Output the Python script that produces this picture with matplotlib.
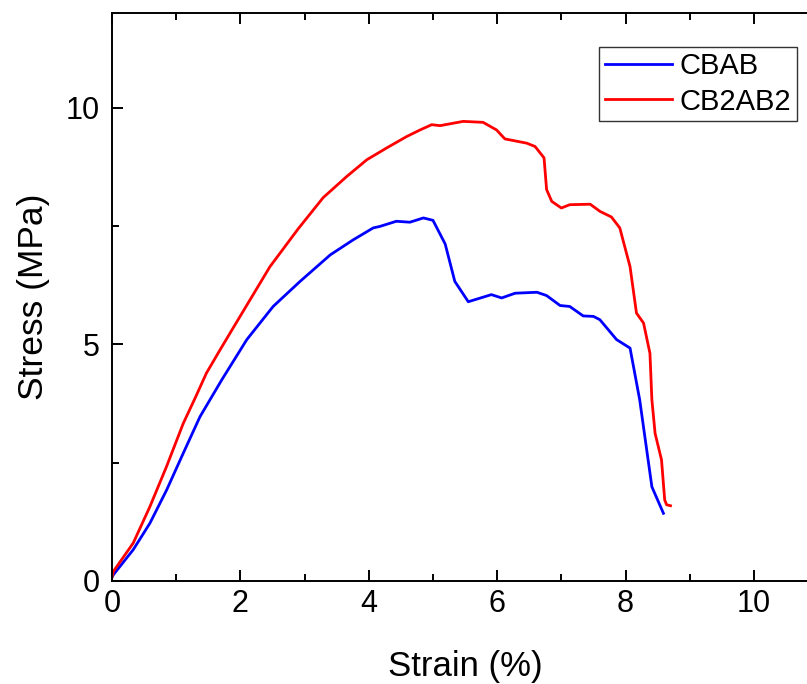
import matplotlib.pyplot as plt
from matplotlib.ticker import MultipleLocator

plt.rcParams["font.family"] = ["Liberation Sans", "DejaVu Sans"]

# CBAB curve (strain %, stress MPa)
cbab_strain = [0.0, 0.02, 0.33, 0.59, 0.85, 1.11, 1.37, 1.71, 2.10, 2.51, 2.93, 3.40, 3.76,
               4.07, 4.17, 4.43, 4.64, 4.85, 5.00, 5.19, 5.34, 5.55, 5.91, 6.07, 6.28, 6.62, 6.77,
               6.98, 7.13, 7.34, 7.50, 7.60, 7.86, 8.07, 8.22, 8.41, 8.59]
cbab_stress = [0.08, 0.13, 0.66, 1.22, 1.92, 2.70, 3.47, 4.25, 5.10, 5.80, 6.33, 6.89, 7.21,
               7.46, 7.49, 7.60, 7.58, 7.67, 7.62, 7.12, 6.33, 5.90, 6.05, 5.98, 6.08, 6.10, 6.03,
               5.82, 5.80, 5.60, 5.59, 5.52, 5.10, 4.92, 3.83, 1.99, 1.43]

# CB2AB2 curve
cb2ab2_strain = [0.0, 0.02, 0.33, 0.59, 0.85, 1.11, 1.30, 1.47, 1.66, 1.84, 2.15, 2.46, 2.90,
                 3.29, 3.66, 3.97, 4.28, 4.59, 4.80, 4.98, 5.11, 5.47, 5.78, 5.99, 6.12, 6.46,
                 6.59, 6.73, 6.77, 6.85, 7.00, 7.13, 7.45, 7.60, 7.78, 7.91, 8.07, 8.17, 8.28,
                 8.38, 8.41, 8.46, 8.56, 8.61, 8.64, 8.70]
cb2ab2_stress = [0.08, 0.20, 0.80, 1.57, 2.42, 3.33, 3.88, 4.39, 4.83, 5.24, 5.94, 6.64, 7.44,
                 8.10, 8.55, 8.90, 9.15, 9.39, 9.53, 9.64, 9.62, 9.71, 9.69, 9.53, 9.34, 9.25,
                 9.18, 8.94, 8.27, 8.02, 7.88, 7.95, 7.96, 7.81, 7.69, 7.46, 6.64, 5.66, 5.45,
                 4.81, 3.83, 3.12, 2.56, 1.71, 1.61, 1.59]

fig = plt.figure(figsize=(8.07, 6.84), dpi=100)
ax = fig.add_axes([0.1388, 0.1506, 0.875, 0.8304])

ax.plot(cbab_strain, cbab_stress, color="#0000ff", linewidth=2.0, label="CBAB")
ax.plot(cb2ab2_strain, cb2ab2_stress, color="#ff0000", linewidth=2.0, label="CB2AB2")

ax.set_xlim(0, 11)
ax.set_ylim(0, 12)
ax.set_xticks([0, 2, 4, 6, 8, 10])
ax.xaxis.set_minor_locator(MultipleLocator(1))
ax.yaxis.set_major_locator(MultipleLocator(5))
ax.yaxis.set_minor_locator(MultipleLocator(2.5))
ax.tick_params(which="both", direction="in", top=True, right=True, width=1.4, labelsize=22)
ax.tick_params(axis="y", pad=9)
ax.tick_params(axis="x", pad=6)
ax.tick_params(which="major", length=8)
ax.tick_params(which="minor", length=5)
for s in ax.spines.values():
    s.set_linewidth(1.4)

ax.set_xlabel("Strain (%)", fontsize=25, labelpad=22)
ax.set_ylabel("Stress (MPa)", fontsize=25.5, labelpad=11)

leg = ax.legend(loc="upper right", bbox_to_anchor=(0.987, 0.932), bbox_transform=fig.transFigure,
                fontsize=21, frameon=True, fancybox=False, edgecolor="black",
                handlelength=2.3, handletextpad=0.25, borderpad=0.2, labelspacing=0.25,
                borderaxespad=0)
leg.get_frame().set_linewidth(1.0)

fig.savefig("out.png", dpi=100)
